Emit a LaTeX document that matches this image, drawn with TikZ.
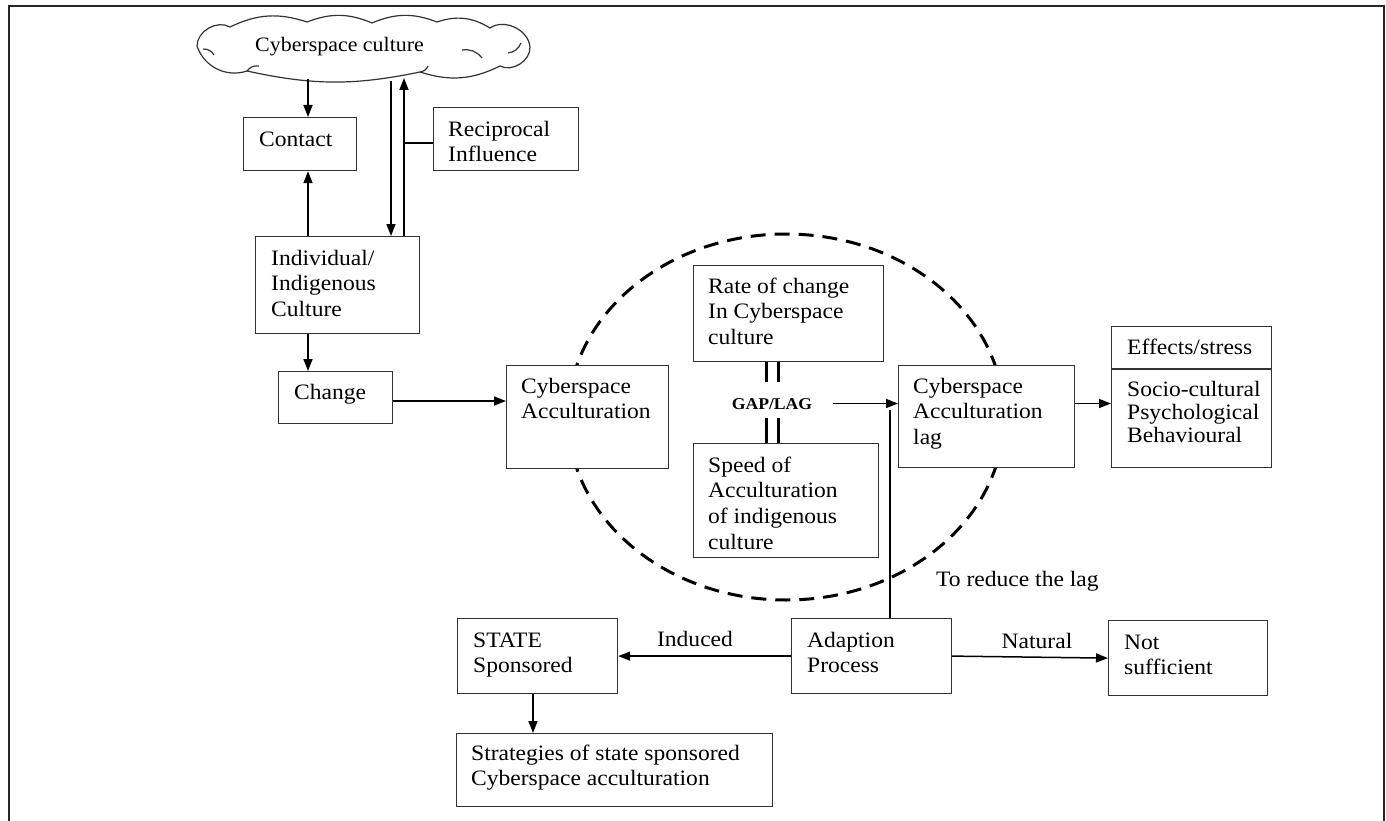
\documentclass[tikz,border=0pt]{standalone}
\usepackage{fontspec}
\setmainfont{Liberation Serif}
\newfontfamily\tnr[FakeStretch=1.07]{Liberation Serif}
\usetikzlibrary{arrows.meta,shapes.geometric,calc}
\newcommand\bodyfont{\tnr\fontsize{22}{25.7}\selectfont}
\newcommand\listfont{\tnr\fontsize{22}{23.4}\selectfont}
\newcommand\cloudfont{\tnr\fontsize{20.5}{25.7}\selectfont}
\newcommand\gapfont{\tnr\bfseries\fontsize{16.5}{20}\selectfont}
\begin{document}
\begin{tikzpicture}[x=1pt,y=-1pt,
  bx/.style={rectangle, draw=black!80, line width=1.2pt, fill=white, inner sep=0, anchor=north west},
  tx/.style={anchor=north west, inner sep=0, align=left, font=\bodyfont},
  lbl/.style={anchor=base, inner sep=0, font=\bodyfont},
  arr/.style={line width=1.5pt, -{Triangle[length=12pt,width=9pt]}},
  ln/.style={line width=1.4pt},
  gapln/.style={line width=3pt},
  cloudln/.style={draw=black!80, line width=1.2pt},
  frame/.style={line width=2.5pt, draw=black!85}]
\useasboundingbox (0,0) rectangle (1386,821);
\draw[frame] (9,840) -- (9,6) -- (1384,6) -- (1384,840);
% dashed zone
\node[ellipse, draw=black, line width=3pt, dash pattern=on 15pt off 9pt, inner sep=0,
      minimum width=436pt, minimum height=366pt] (zone) at (786,417) {};
% cloud outline
\draw[cloudln, fill=white] (197,46) to[bend left=60] (230,27) to[bend left=22] (307,22)
  to[bend left=22] (372,23) to[bend left=22] (437,22) to[bend left=25] (490,28)
  to[bend left=60] (530,47) to[bend left=60] (500,66) to[bend left=22] (420,72)
  to[bend left=12] (247,71) to[bend left=45] cycle;
\draw[cloudln] (203,49) to[bend left=30] (214,55);
\draw[cloudln] (462,50) to[bend left=30] (482,58);
\draw[cloudln] (508,53) to[bend right=30] (521,43);
\draw[cloudln] (247,71) to[bend left=30] (259,66);
\draw[cloudln] (420,72) to[bend right=30] (428,66);
\node[anchor=north west, inner sep=0, font=\cloudfont] (cloud) at (255,33.7) {\strut Cyberspace culture};
% boxes
\node[bx, minimum width=113pt, minimum height=53pt] (contact) at (243,117) {};
\node[bx, minimum width=145pt, minimum height=63pt] (rec) at (433,107) {};
\node[bx, minimum width=164pt, minimum height=97pt] (ind) at (255,236) {};
\node[bx, minimum width=114pt, minimum height=52pt] (chg) at (278,371) {};
\node[bx, minimum width=162pt, minimum height=103pt] (ca) at (506,365) {};
\node[bx, minimum width=190pt, minimum height=96pt] (rate) at (693,265) {};
\node[bx, minimum width=185pt, minimum height=114pt] (speed) at (693,443) {};
\node[bx, minimum width=176pt, minimum height=102pt] (lag) at (898,365) {};
\node[bx, minimum width=160pt, minimum height=141pt] (eff) at (1111,326) {};
\draw[line width=1.2pt, draw=black!80] ($(eff.north west)+(0,43)$) -- ($(eff.north east)+(0,43)$);
\node[bx, minimum width=160pt, minimum height=75pt] (state) at (457,618) {};
\node[bx, minimum width=160pt, minimum height=75pt] (adapt) at (791,618) {};
\node[bx, minimum width=159pt, minimum height=75pt] (ns) at (1108,620) {};
\node[bx, minimum width=316pt, minimum height=73pt] (strat) at (456,733) {};
% texts
\node[tx] (contact-t) at (259,128) {\strut Contact};
\node[tx] (rec-t) at (448,118) {\strut Reciprocal\\Influence};
\node[tx] (ind-t) at (271,247) {\strut Individual/\\Indigenous\\Culture};
\node[tx] (chg-t) at (294,381.3) {\strut Change};
\node[tx] (ca-t) at (521,375) {\strut Cyberspace\\Acculturation};
\node[tx] (rate-t) at (708,275) {\strut Rate of change\\In Cyberspace\\culture};
\node[tx] (speed-t) at (708,454) {\strut Speed of\\Acculturation\\of indigenous\\culture};
\node[tx] (lag-t) at (913,375) {\strut Cyberspace\\Acculturation\\lag};
\node[tx] (eff-t) at (1127,336) {\strut Effects/stress};
\node[tx, font=\listfont] (eff-l) at (1127,379.6) {\strut Socio-cultural\\Psychological\\Behavioural};
\node[tx] (red-t) at (936,568.7) {\strut To reduce the lag};
\node[tx] (state-t) at (473,629) {\strut STATE\\Sponsored};
\node[tx] (adapt-t) at (807,629) {\strut Adaption\\Process};
\node[tx] (ns-t) at (1124,631) {\strut Not\\sufficient};
\node[tx] (strat-t) at (471,742) {\strut Strategies of state sponsored\\Cyberspace acculturation};
\node[anchor=base, inner sep=0, font=\gapfont] (gap) at (772,409.3) {GAP/LAG};
% connectors
\coordinate (cx) at (308,79);
\coordinate (rd) at (391,81);
\coordinate (ru) at (404,78);
\coordinate (rh) at (404,143);
\draw[arr] (cx) -- (cx |- contact.north);
\draw[arr] (cx |- ind.north) -- (cx |- contact.south);
\draw[arr] (cx |- ind.south) -- (cx |- chg.north);
\draw[arr] (rd) -- (rd |- ind.north);
\draw[arr] (ru |- ind.north) -- (ru);
\draw[ln] (rh) -- (rh -| rec.west);
\coordinate (chy) at (392,401);
\draw[arr] (chy -| chg.east) -- (chy -| ca.west);
\coordinate (gy) at (833,403.5);
\draw[arr] (gy) -- (gy -| lag.west);
\draw[arr] (gy -| lag.east) -- (gy -| eff.west);
\coordinate (gl1) at (766,382);
\coordinate (gl2) at (778,382);
\coordinate (gl3) at (766,418);
\coordinate (gl4) at (778,418);
\draw[gapln] (gl1 |- rate.south) -- (gl1);
\draw[gapln] (gl2 |- rate.south) -- (gl2);
\draw[gapln] (gl3) -- (gl3 |- speed.north);
\draw[gapln] (gl4) -- (gl4 |- speed.north);
\coordinate (vr) at (890,410);
\draw[ln] (vr |- adapt.north) -- (vr);
\draw[arr] (adapt.west) -- (adapt.west -| state.east);
\node[lbl] (induced) at (695,646) {Induced};
\draw[arr] (adapt.east) -- (ns.west);
\node[lbl] (natural) at (1037,648) {Natural};
\coordinate (sx) at (533,700);
\draw[arr] (sx |- state.south) -- (sx |- strat.north);
\end{tikzpicture}
\end{document}
